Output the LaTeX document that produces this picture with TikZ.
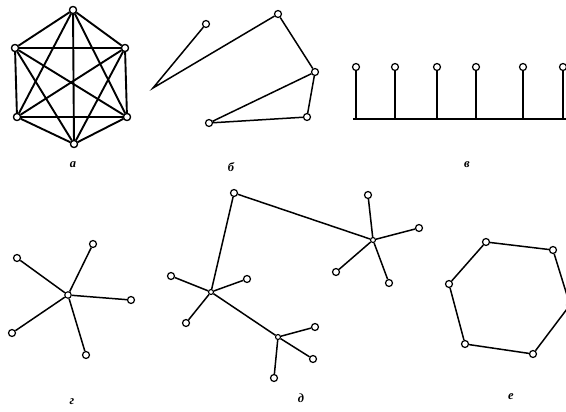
\documentclass[tikz,border=0pt]{standalone}
\usepackage{fontspec}
\setmainfont{Liberation Serif}
\begin{document}
\begin{tikzpicture}[x=1pt,y=-1pt,
  vtx/.style={circle,draw,fill=white,inner sep=0pt,minimum size=7pt,line width=1.2pt},
  hub/.style={circle,draw,fill=white,inner sep=0pt,minimum size=5pt,line width=1.1pt},
  bare/.style={inner sep=0pt,minimum size=0pt},
  edge/.style={line width=1.5pt,line join=miter},
  thick edge/.style={line width=1.9pt},
  lbl/.style={font=\bfseries\itshape\fontsize{12.5}{12.5}\selectfont}]
\useasboundingbox (0,0) rectangle (566,412);
\clip (0,0) rectangle (566,412);
% ---- а: complete graph K6
\node[vtx] (a1) at (73,10) {};
\node[vtx] (a2) at (125,48) {};
\node[vtx] (a3) at (127,117) {};
\node[vtx] (a4) at (74,144) {};
\node[vtx] (a5) at (17,117) {};
\node[vtx] (a6) at (15,48) {};
\foreach \i/\j in {a1/a2,a1/a3,a1/a4,a1/a5,a1/a6,a2/a3,a2/a4,a2/a5,a2/a6,a3/a4,a3/a5,a3/a6,a4/a5,a4/a6,a5/a6}
  \draw[thick edge] (\i) -- (\j);
\foreach \n in {a1,a2,a3,a4,a5,a6} \node[vtx] at (\n) {};
\node[lbl] (la) at (73,165) {а};
% ---- б
\node[vtx] (b1) at (206,24) {};
\node[bare] (b0) at (153,88) {};
\node[vtx] (b2) at (278,14) {};
\node[vtx] (b3) at (315,72) {};
\node[vtx] (b4) at (307,117) {};
\node[vtx] (b5) at (209,123) {};
\draw[edge] (b1) -- (b0.center) -- (b2) -- (b3) -- (b5) -- (b4) -- (b3);
\node[lbl] (lb) at (231,167) {б};
% ---- в
\coordinate (cL) at (353,119);
\coordinate (cR) at (570,119);
\draw[thick edge] (cL) -- (cR);
\foreach \x [count=\k] in {356,395,437,476,523,563} {
  \node[vtx] (c\k) at (\x,67) {};
  \coordinate (cb\k) at (\x,119);
  \draw[edge] (c\k) -- (cb\k);
}
\node[lbl] (lc) at (467,165) {в};
% ---- г
\node[hub,minimum size=6.5pt] (g0) at (68,295) {};
\node[vtx] (g1) at (17,258) {};
\node[vtx] (g2) at (93,244) {};
\node[vtx] (g3) at (131,300) {};
\node[vtx] (g4) at (86,355) {};
\node[vtx] (g5) at (12,333) {};
\foreach \n in {g1,g2,g3,g4,g5} \draw[edge] (g0) -- (\n);
\node[lbl] (lg) at (72,402) {г};
% ---- д
\node[vtx] (dA) at (234,193) {};
\node[hub] (h1) at (211,292) {};
\node[hub] (h2) at (278,337) {};
\node[hub] (h3) at (373,240) {};
\node[vtx] (d11) at (171,276) {};
\node[vtx] (d12) at (247,279) {};
\node[vtx] (d13) at (186,323) {};
\node[vtx] (d21) at (315,327) {};
\node[vtx] (d22) at (313,359) {};
\node[vtx] (d23) at (274,378) {};
\node[vtx] (d31) at (368,195) {};
\node[vtx] (d32) at (419,228) {};
\node[vtx] (d33) at (336,272) {};
\node[vtx] (d34) at (389,283) {};
\draw[edge] (dA) -- (h1);
\draw[edge] (dA) -- (h3);
\draw[edge] (h1) -- (h2);
\foreach \n in {d11,d12,d13} \draw[edge] (h1) -- (\n);
\foreach \n in {d21,d22,d23} \draw[edge] (h2) -- (\n);
\foreach \n in {d31,d32,d33,d34} \draw[edge] (h3) -- (\n);
\node[lbl] (ld) at (301,398) {д};
% ---- е
\node[vtx] (e1) at (486,242) {};
\node[vtx] (e2) at (553,250) {};
\node[vtx] (e3) at (570,305) {};
\node[vtx] (e4) at (533,354) {};
\node[vtx] (e5) at (465,344) {};
\node[vtx] (e6) at (449,284) {};
\draw[edge] (e1) -- (e2) -- (e3) -- (e4) -- (e5) -- (e6) -- (e1);
\node[lbl] (le) at (511,397) {е};
\end{tikzpicture}
\end{document}
